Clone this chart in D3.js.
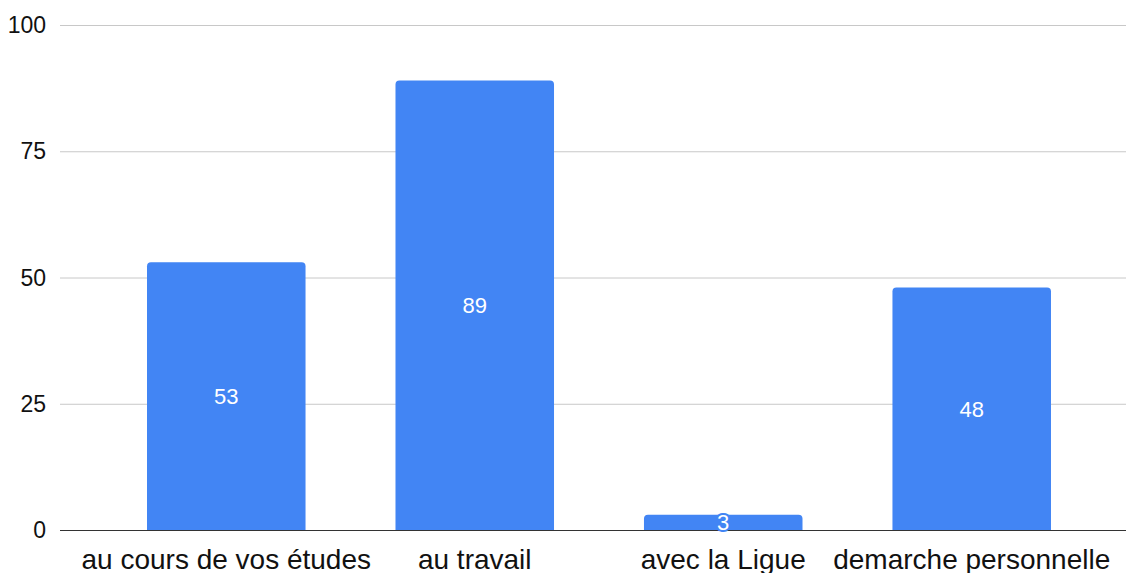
<!DOCTYPE html>
<html>
<head>
<meta charset="utf-8">
<script src="https://d3js.org/d3.v7.min.js"></script>
<style>
  body { margin: 0; background: #fff; }
  svg { display: block; font-family: Arial, "Liberation Sans", sans-serif; }
  .grid line { stroke: #c8c8c8; stroke-width: 1px; }
</style>
</head>
<body>
<svg width="1126" height="573"></svg>
<script>
var categories = ["au cours de vos études", "au travail", "avec la Ligue", "demarche personnelle"];
var values = [53, 89, 3, 48];
var yTicks = [0, 25, 50, 75, 100];

var svg = d3.select("svg"),
    width = +svg.attr("width"),
    plotLeft = 60,
    plotTop = 25,
    plotBottom = 530;

var x = d3.scaleBand()
    .domain(categories)
    .range([plotLeft, width])
    .paddingInner(0.362)
    .paddingOuter(0.326)
    .align(0.537);

var y = d3.scaleLinear().domain([0, 100]).range([plotBottom, plotTop]);

// gridlines
svg.append("g").attr("class", "grid")
    .selectAll("line")
    .data(yTicks.filter(function (d) { return d > 0; }))
    .enter().append("line")
    .attr("x1", plotLeft).attr("x2", width)
    .attr("y1", function (d) { return y(d) + 0.5; })
    .attr("y2", function (d) { return y(d) + 0.5; });

// y tick labels
svg.append("g")
    .selectAll("text")
    .data(yTicks)
    .enter().append("text")
    .attr("x", 46)
    .attr("y", function (d) { return y(d); })
    .attr("dy", "0.35em")
    .attr("text-anchor", "end")
    .attr("font-size", 23)
    .attr("fill", "#111")
    .text(function (d) { return d; });

// bars with rounded top corners
function barPath(d, i) {
    var x0 = x(categories[i]), w = x.bandwidth(), y0 = y(d), yb = y(0), r = Math.min(4, yb - y0);
    return "M" + x0 + "," + yb +
        "V" + (y0 + r) +
        "Q" + x0 + "," + y0 + " " + (x0 + r) + "," + y0 +
        "H" + (x0 + w - r) +
        "Q" + (x0 + w) + "," + y0 + " " + (x0 + w) + "," + (y0 + r) +
        "V" + yb + "Z";
}

svg.append("g")
    .selectAll("path")
    .data(values)
    .enter().append("path")
    .attr("d", barPath)
    .attr("fill", "#4285f4");

// baseline
svg.append("line")
    .attr("x1", plotLeft).attr("x2", width)
    .attr("y1", plotBottom + 0.5).attr("y2", plotBottom + 0.5)
    .attr("stroke", "#333").attr("stroke-width", 1);

// value labels
svg.append("g")
    .selectAll("text")
    .data(values)
    .enter().append("text")
    .attr("x", function (d, i) { return x(categories[i]) + x.bandwidth() / 2; })
    .attr("y", function (d) { return (y(d) + y(0)) / 2; })
    .attr("dy", "0.35em")
    .attr("text-anchor", "middle")
    .attr("font-size", 22)
    .attr("fill", "#fff")
    .attr("stroke", "#4285f4")
    .attr("stroke-width", 4)
    .attr("paint-order", "stroke")
    .attr("stroke-linejoin", "round")
    .text(function (d) { return d; });

// category labels
svg.append("g")
    .selectAll("text")
    .data(categories)
    .enter().append("text")
    .attr("x", function (d) { return x(d) + x.bandwidth() / 2; })
    .attr("y", 569)
    .attr("text-anchor", "middle")
    .attr("font-size", 28)
    .attr("fill", "#111")
    .text(function (d) { return d; });
</script>
</body>
</html>
